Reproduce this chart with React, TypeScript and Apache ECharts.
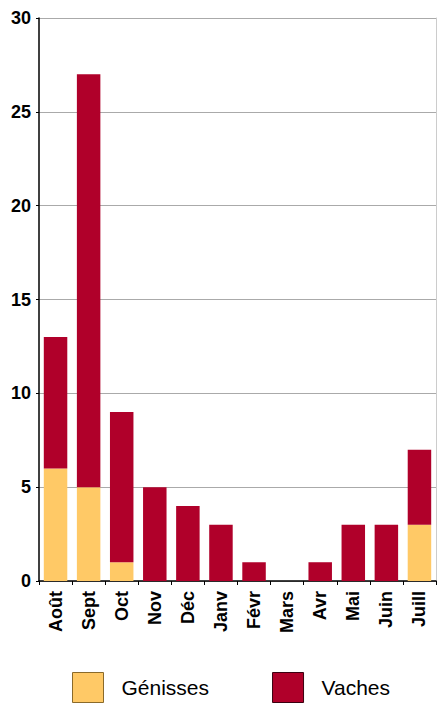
import React, { useEffect, useRef } from "react";
import * as echarts from "echarts";

const months = ["Août", "Sept", "Oct", "Nov", "Déc", "Janv", "Févr", "Mars", "Avr", "Mai", "Juin", "Juill"];
const genisses = [6, 5, 1, 0, 0, 0, 0, 0, 0, 0, 0, 3];
const vaches = [7, 22, 8, 5, 4, 3, 1, 0, 1, 3, 3, 4];
const yTicks = { min: 0, max: 30, interval: 5 };

export default function App() {
  const ref = useRef<HTMLDivElement>(null);
  useEffect(() => {
    const chart = echarts.init(ref.current!, null, { renderer: "svg" });
    chart.setOption({
      animation: false,
      grid: { left: 39, right: 3, top: 18, bottom: 123 },
      legend: {
        bottom: 1,
        left: 72,
        padding: 0,
        itemWidth: 31,
        itemHeight: 30,
        itemGap: 63,
        icon: "rect",
        textStyle: { fontFamily: "Liberation Sans, Arial", fontSize: 21, color: "#000", padding: [0, 0, 0, 13] },
        data: [
          { name: "Génisses", itemStyle: { borderColor: "#8a6a2a", borderWidth: 1 } },
          { name: "Vaches", itemStyle: { borderColor: "#3a0010", borderWidth: 1 } },
        ],
      },
      xAxis: {
        type: "category",
        data: months,
        axisLine: { lineStyle: { color: "#000", width: 1.5 } },
        axisTick: { show: true, length: 4, lineStyle: { color: "#000" } },
        axisLabel: {
          rotate: 90,
          interval: 0,
          margin: 10,
          fontFamily: "Liberation Sans, Arial",
          fontWeight: "bold",
          fontSize: 18,
          color: "#000",
        },
      },
      yAxis: [
        {
          type: "value",
          min: yTicks.min,
          max: yTicks.max,
          interval: yTicks.interval,
          axisLine: { show: true, lineStyle: { color: "#000", width: 1.5 } },
          axisTick: { show: true, length: 3, lineStyle: { color: "#000" } },
          splitLine: { lineStyle: { color: "#aaa", width: 1 } },
          axisLabel: {
            margin: 8,
            fontFamily: "Liberation Sans, Arial",
            fontWeight: "bold",
            fontSize: 18,
            color: "#000",
          },
        },
        {
          type: "value",
          position: "right",
          min: yTicks.min,
          max: yTicks.max,
          interval: yTicks.interval,
          axisLine: { show: true, lineStyle: { color: "#ccc", width: 1 } },
          axisTick: { show: false },
          axisLabel: { show: false },
          splitLine: { show: false },
        },
      ],
      series: [
        {
          name: "Génisses",
          type: "bar",
          stack: "total",
          data: genisses,
          barWidth: "71%",
          itemStyle: { color: "#FFC966" },
        },
        {
          name: "Vaches",
          type: "bar",
          stack: "total",
          data: vaches,
          barWidth: "71%",
          itemStyle: { color: "#B0002A" },
        },
      ],
    });
    return () => chart.dispose();
  }, []);
  return <div ref={ref} style={{ width: 439, height: 704, position: "absolute", left: 0, top: 0 }} />;
}
